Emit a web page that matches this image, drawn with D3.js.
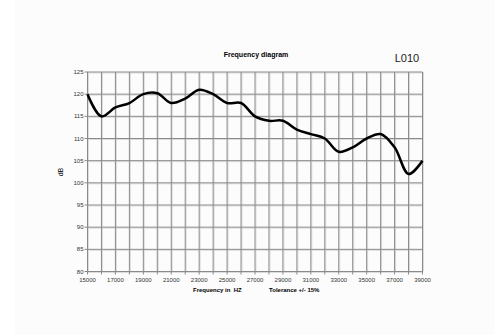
<!DOCTYPE html>
<html>
<head>
<meta charset="utf-8">
<script src="https://cdn.jsdelivr.net/npm/d3@7"></script>
<style>
body{margin:0;background:#fff;}
text{font-family:"Liberation Sans",Arial,sans-serif;}
</style>
</head>
<body>
<div id="chart"></div>
<script>
// frequency points (Hz) and measured level (dB)
var freqs=[15000,16000,17000,18000,19000,20000,21000,22000,23000,24000,25000,26000,27000,
	28000,29000,30000,31000,32000,33000,34000,35000,36000,37000,38000,39000];
var levels=[120,115,117,118,120,120.2,118,119,121,120,118,118,115,
	114,114,112,111,110,107,108,110,111,108,102,105];
var xTicks=[15000,17000,19000,21000,23000,25000,27000,29000,31000,33000,35000,37000,39000];
var yTicks=[80,85,90,95,100,105,110,115,120,125];

var W=495,H=335;
var pLeft=87.5,pRight=422.5,pTop=72,pBottom=271.5;

var svg=d3.select("#chart").append("svg").attr("width",W).attr("height",H);
svg.append("rect").attr("x",15).attr("y",0).attr("width",W-15).attr("height",H)
	.attr("fill","#fcfcfc");

var x=d3.scaleLinear().domain([15000,39000]).range([pLeft,pRight]);
var y=d3.scaleLinear().domain([80,125]).range([pBottom,pTop]);

var grid=svg.append("g");
var vLines=d3.range(15000,39001,1000);
grid.selectAll("line.vl").data(vLines).enter().append("line").attr("class","vl")
	.attr("x1",function(d){return x(d)+1;}).attr("x2",function(d){return x(d)+1;})
	.attr("y1",pTop).attr("y2",pBottom).attr("stroke","#dcdcdc");
grid.selectAll("line.hl").data(yTicks).enter().append("line").attr("class","hl")
	.attr("x1",pLeft).attr("x2",pRight)
	.attr("y1",function(d){return y(d)+1;}).attr("y2",function(d){return y(d)+1;})
	.attr("stroke","#dcdcdc");
grid.selectAll("line.v").data(vLines).enter().append("line").attr("class","v")
	.attr("x1",function(d){return x(d);}).attr("x2",function(d){return x(d);})
	.attr("y1",pTop).attr("y2",pBottom+3).attr("stroke","#8a8a8a");
grid.selectAll("line.h").data(yTicks).enter().append("line").attr("class","h")
	.attr("x1",pLeft-3).attr("x2",pRight)
	.attr("y1",function(d){return y(d);}).attr("y2",function(d){return y(d);})
	.attr("stroke","#8a8a8a");

svg.selectAll("text.yt").data(yTicks).enter().append("text").attr("class","yt")
	.attr("x",pLeft-4).attr("y",function(d){return y(d);})
	.attr("dy","0.35em").attr("text-anchor","end").attr("font-size",6)
	.attr("fill","#333").text(function(d){return d;});
svg.selectAll("text.xt").data(xTicks).enter().append("text").attr("class","xt")
	.attr("x",function(d){return x(d);}).attr("y",pBottom+10)
	.attr("text-anchor","middle").attr("font-size",6)
	.attr("fill","#333").text(function(d){return d;});

var line=d3.line()
	.x(function(d,i){return x(freqs[i]);})
	.y(function(d){return y(d);})
	.curve(d3.curveCatmullRom.alpha(0.5));
svg.append("path").datum(levels).attr("d",line)
	.attr("fill","none").attr("stroke","#000").attr("stroke-width",2.5)
	.attr("stroke-linejoin","round");

svg.append("text").attr("x",256).attr("y",57).attr("text-anchor","middle")
	.attr("font-size",7).attr("font-weight","bold").attr("fill","#000").text("Frequency diagram");
svg.append("text").attr("x",407).attr("y",62).attr("text-anchor","middle")
	.attr("font-size",11).attr("fill","#222").text("L010");
svg.append("text").attr("transform","translate(63,172) rotate(-90)")
	.attr("text-anchor","middle").attr("font-size",7).attr("fill","#000").text("dB");
svg.append("text").attr("x",193).attr("y",292).attr("font-size",6)
	.attr("font-weight","bold").attr("fill","#000").attr("xml:space","preserve")
	.text("Frequency in  HZ");
svg.append("text").attr("x",269).attr("y",292).attr("font-size",6)
	.attr("font-weight","bold").attr("fill","#000").text("Tolerance +/- 15%");
</script>
</body>
</html>
